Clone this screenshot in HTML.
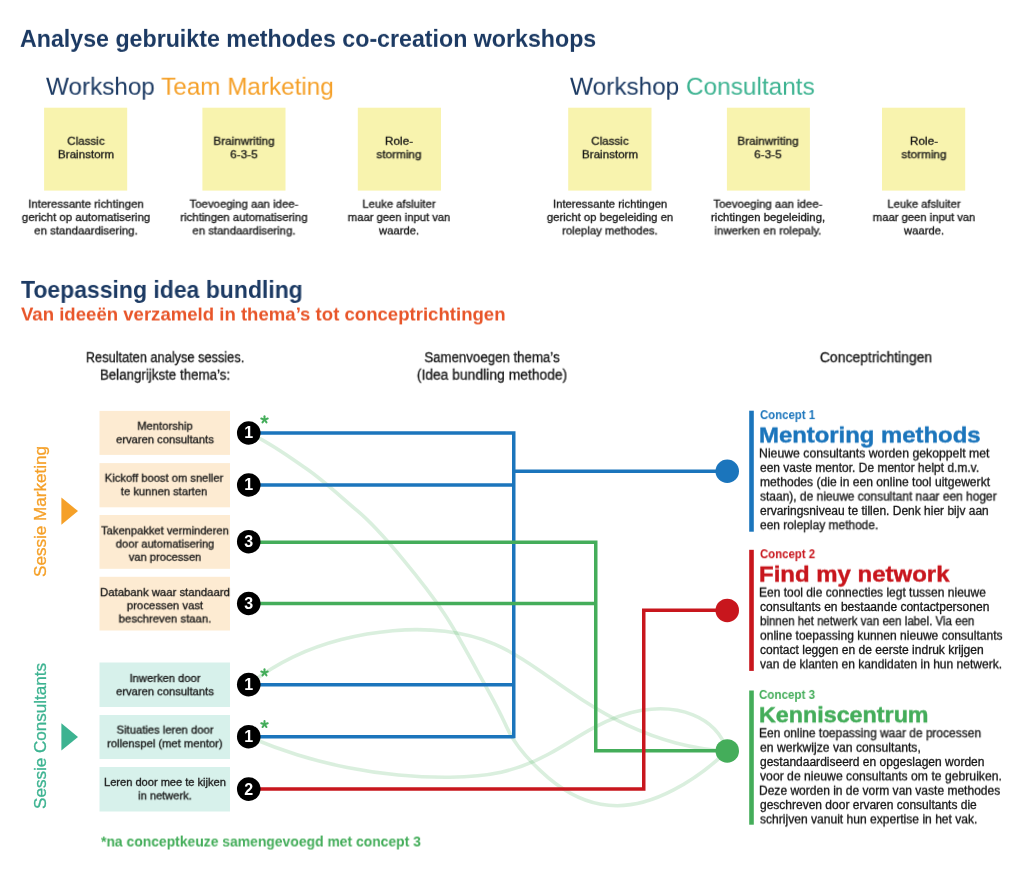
<!DOCTYPE html>
<html><head><meta charset="utf-8"><title>Idea bundling</title>
<style>
html,body{margin:0;padding:0;background:#fff;}
body{width:1024px;height:883px;position:relative;overflow:hidden;font-family:"Liberation Sans",sans-serif;color:#151515;}
.t{position:absolute;white-space:nowrap;line-height:1;transform-origin:0 50%;will-change:transform;}
.k{-webkit-text-stroke:0.3px;}
svg{position:absolute;left:0;top:0;will-change:transform;}
.rot{position:absolute;white-space:nowrap;line-height:1;transform-origin:0 0;}
</style></head><body>

<svg width="1024" height="883" viewBox="0 0 1024 883">
<g fill="#f8f3ae">
<rect x="44.1" y="107.7" width="83.1" height="82.9"/><rect x="202.4" y="107.7" width="83.1" height="82.9"/><rect x="357.8" y="107.7" width="83.2" height="82.9"/>
<rect x="568.2" y="107.7" width="83.3" height="82.9"/><rect x="726.9" y="107.7" width="83" height="82.9"/><rect x="882" y="107.7" width="83.2" height="82.9"/>
</g>
<g fill="#fdebd2">
<rect x="99.5" y="410.9" width="130.5" height="44"/><rect x="99.5" y="463.1" width="130.5" height="44.2"/>
<rect x="99.5" y="515" width="130.5" height="53.8"/><rect x="99.5" y="576.8" width="130.5" height="53.7"/>
</g>
<g fill="#d7f1eb">
<rect x="99.5" y="662.5" width="130.5" height="44.5"/><rect x="99.5" y="715" width="130.5" height="44"/><rect x="99.5" y="767" width="130.5" height="44.5"/>
</g>
<g fill="none" stroke="#44ad5a" stroke-opacity="0.2" stroke-width="3.6" stroke-linecap="round">
<path d="M248.7 433.0C269.3 442.1 287.4 455.5 305.8 468.3C324.3 481.0 340.0 496.3 357.2 510.7C374.5 525.1 388.9 542.4 403.2 559.6C417.5 576.8 431.3 594.3 443.8 612.9C456.3 631.5 466.6 651.6 477.3 671.0C488.0 690.4 497.6 706.7 506.2 726.1C514.7 745.6 531.4 763.3 548.4 777.8C565.5 792.3 586.2 803.2 608.6 805.3C630.9 807.5 653.2 800.6 673.1 790.2C693.0 779.9 711.0 766.4 727.3 750.9"/>
<path d="M248.7 684.7C262.5 673.7 277.3 664.6 292.8 657.1C308.3 649.7 324.6 643.9 341.3 639.6C358.1 635.3 375.4 632.3 392.8 630.8C410.3 629.2 427.9 629.2 445.0 631.3C462.2 633.3 478.8 637.4 494.5 644.1C510.2 650.8 524.8 660.3 539.1 670.2C553.5 680.1 567.6 690.3 582.1 699.7C596.7 709.1 611.6 717.8 627.2 725.1C642.9 732.4 659.2 738.5 675.9 742.9C692.7 747.3 709.8 750.1 727.3 750.9"/>
<path d="M248.7 736.7C264.5 743.6 280.7 749.6 297.1 754.7C313.6 759.9 330.3 764.1 347.2 767.5C364.1 770.9 381.2 773.4 398.4 775.0C415.5 776.6 432.8 777.4 450.0 777.2C467.3 777.0 484.5 775.8 501.1 772.2C517.7 768.5 533.7 762.2 548.8 754.0C563.9 745.9 578.2 736.1 593.4 727.9C608.6 719.7 624.8 713.1 641.9 710.3C659.1 707.5 677.4 708.5 692.9 714.8C708.5 721.0 721.3 732.5 727.3 750.9"/>
</g>
<g fill="none" stroke="#1b75bc" stroke-width="3.5">
<path d="M248.75 433.1H513.75 M248.75 485H513.75 M248.75 684.7H513.75 M248.75 736.7H513.75 M513.75 431.35V738.35 M513.75 471.25H727"/>
</g>
<g fill="none" stroke="#44ad5a" stroke-width="3.5">
<path d="M248.75 542.25H595.75V750.75H727 M248.75 603.4H595.75" transform="translate(0,0)"/>
</g>
<g fill="none" stroke="#c8161d" stroke-width="3.5">
<path d="M248.75 789.1H643.75V610.3H727"/>
</g>
<circle cx="727.25" cy="471.25" r="11.75" fill="#1b75bc"/>
<circle cx="727.25" cy="610.4" r="11.75" fill="#c8161d"/>
<circle cx="727.25" cy="750.9" r="11.75" fill="#44ad5a"/>
<rect x="749.2" y="410.7" width="4.6" height="121" fill="#1b75bc"/>
<rect x="749.2" y="549.8" width="4.6" height="121.1" fill="#c8161d"/>
<rect x="749.2" y="690.5" width="4.6" height="134.2" fill="#44ad5a"/>
<polygon points="61.4,497.5 61.4,524.7 78,511.1" fill="#f5a028"/>
<polygon points="61.4,723.3 61.4,750.5 78,736.9" fill="#3db391"/>
<circle cx="248.75" cy="433.0" r="11.8" fill="#000"/><text x="248.75" y="438" font-size="16" font-weight="700" fill="#fff" text-anchor="middle" font-family="Liberation Sans, sans-serif">1</text><circle cx="248.75" cy="485.0" r="11.8" fill="#000"/><text x="248.75" y="490" font-size="16" font-weight="700" fill="#fff" text-anchor="middle" font-family="Liberation Sans, sans-serif">1</text><circle cx="248.75" cy="541.7" r="11.8" fill="#000"/><text x="248.75" y="547" font-size="16" font-weight="700" fill="#fff" text-anchor="middle" font-family="Liberation Sans, sans-serif">3</text><circle cx="248.75" cy="603.5" r="11.8" fill="#000"/><text x="248.75" y="609" font-size="16" font-weight="700" fill="#fff" text-anchor="middle" font-family="Liberation Sans, sans-serif">3</text><circle cx="248.75" cy="684.6" r="11.8" fill="#000"/><text x="248.75" y="690" font-size="16" font-weight="700" fill="#fff" text-anchor="middle" font-family="Liberation Sans, sans-serif">1</text><circle cx="248.75" cy="736.7" r="11.8" fill="#000"/><text x="248.75" y="742" font-size="16" font-weight="700" fill="#fff" text-anchor="middle" font-family="Liberation Sans, sans-serif">1</text><circle cx="248.75" cy="789.1" r="11.8" fill="#000"/><text x="248.75" y="795" font-size="16" font-weight="700" fill="#fff" text-anchor="middle" font-family="Liberation Sans, sans-serif">2</text>
<line x1="264.50" y1="419.60" x2="264.50" y2="416.20" stroke="#44ad5a" stroke-width="2" stroke-linecap="round"/><line x1="264.50" y1="419.60" x2="267.73" y2="418.55" stroke="#44ad5a" stroke-width="2" stroke-linecap="round"/><line x1="264.50" y1="419.60" x2="266.50" y2="422.35" stroke="#44ad5a" stroke-width="2" stroke-linecap="round"/><line x1="264.50" y1="419.60" x2="262.50" y2="422.35" stroke="#44ad5a" stroke-width="2" stroke-linecap="round"/><line x1="264.50" y1="419.60" x2="261.27" y2="418.55" stroke="#44ad5a" stroke-width="2" stroke-linecap="round"/><line x1="264.50" y1="672.60" x2="264.50" y2="669.20" stroke="#44ad5a" stroke-width="2" stroke-linecap="round"/><line x1="264.50" y1="672.60" x2="267.73" y2="671.55" stroke="#44ad5a" stroke-width="2" stroke-linecap="round"/><line x1="264.50" y1="672.60" x2="266.50" y2="675.35" stroke="#44ad5a" stroke-width="2" stroke-linecap="round"/><line x1="264.50" y1="672.60" x2="262.50" y2="675.35" stroke="#44ad5a" stroke-width="2" stroke-linecap="round"/><line x1="264.50" y1="672.60" x2="261.27" y2="671.55" stroke="#44ad5a" stroke-width="2" stroke-linecap="round"/><line x1="264.50" y1="724.30" x2="264.50" y2="720.90" stroke="#44ad5a" stroke-width="2" stroke-linecap="round"/><line x1="264.50" y1="724.30" x2="267.73" y2="723.25" stroke="#44ad5a" stroke-width="2" stroke-linecap="round"/><line x1="264.50" y1="724.30" x2="266.50" y2="727.05" stroke="#44ad5a" stroke-width="2" stroke-linecap="round"/><line x1="264.50" y1="724.30" x2="262.50" y2="727.05" stroke="#44ad5a" stroke-width="2" stroke-linecap="round"/><line x1="264.50" y1="724.30" x2="261.27" y2="723.25" stroke="#44ad5a" stroke-width="2" stroke-linecap="round"/>
</svg>
<div class="rot" style="left:32.4px;top:576.5px;font-size:17.2px;color:#f5a028;-webkit-text-stroke:0.3px #f5a028;transform:rotate(-90deg) scaleX(0.9947)">Sessie Marketing</div>
<div class="rot" style="left:32.4px;top:809.3px;font-size:17.2px;color:#3db391;-webkit-text-stroke:0.3px #3db391;transform:rotate(-90deg) scaleX(0.9932)">Sessie Consultants</div>

<div class="t" style="left:19.79px;top:28px;font-size:23.2px;font-weight:700;color:#1c3a63;transform:translateY(-0.15px) scale(1.0005,.9999)">Analyse gebruikte methodes co-creation workshops</div>
<div class="t" style="left:45.7px;top:75px;font-size:24.6px;color:#1c3a63;transform:translateY(-0.3px) scale(0.9866,.9999)">Workshop <span style="color:#f5a028">Team Marketing</span></div>
<div class="t" style="left:569.59px;top:75px;font-size:24.6px;color:#1c3a63;transform:translateY(-0.3px) scale(0.9907,.9999)">Workshop <span style="color:#3db391">Consultants</span></div>
<div class="t k" style="left:85.6px;top:136px;font-size:10.8px;transform:translateY(-0.2px) scale(1.0735,.9999) translateX(-50%)">Classic</div>
<div class="t k" style="left:85.6px;top:149px;font-size:10.8px;transform:translateY(0.2px) scale(1.0735,.9999) translateX(-50%)">Brainstorm</div>
<div class="t k" style="left:244.0px;top:136px;font-size:10.8px;transform:translateY(-0.2px) scale(1.0848,.9999) translateX(-50%)">Brainwriting</div>
<div class="t k" style="left:244.0px;top:149px;font-size:10.8px;transform:translateY(0.2px) scale(1.0848,.9999) translateX(-50%)">6-3-5</div>
<div class="t k" style="left:399.4px;top:136px;font-size:10.8px;transform:translateY(-0.2px) scale(1.0875,.9999) translateX(-50%)">Role-</div>
<div class="t k" style="left:399.4px;top:149px;font-size:10.8px;transform:translateY(0.2px) scale(1.0875,.9999) translateX(-50%)">storming</div>
<div class="t k" style="left:609.9px;top:136px;font-size:10.8px;transform:translateY(-0.2px) scale(1.0735,.9999) translateX(-50%)">Classic</div>
<div class="t k" style="left:609.9px;top:149px;font-size:10.8px;transform:translateY(0.2px) scale(1.0735,.9999) translateX(-50%)">Brainstorm</div>
<div class="t k" style="left:768.4px;top:136px;font-size:10.8px;transform:translateY(-0.2px) scale(1.0848,.9999) translateX(-50%)">Brainwriting</div>
<div class="t k" style="left:768.4px;top:149px;font-size:10.8px;transform:translateY(0.2px) scale(1.0848,.9999) translateX(-50%)">6-3-5</div>
<div class="t k" style="left:923.7px;top:136px;font-size:10.8px;transform:translateY(-0.2px) scale(1.0875,.9999) translateX(-50%)">Role-</div>
<div class="t k" style="left:923.7px;top:149px;font-size:10.8px;transform:translateY(0.2px) scale(1.0875,.9999) translateX(-50%)">storming</div>
<div class="t k" style="left:85.6px;top:199px;font-size:10.8px;transform:translateY(-0.3px) scale(1.0583,.9999) translateX(-50%)">Interessante richtingen</div>
<div class="t k" style="left:85.6px;top:212px;font-size:10.8px;transform:translateY(0.05px) scale(1.0583,.9999) translateX(-50%)">gericht op automatisering</div>
<div class="t k" style="left:85.6px;top:225px;font-size:10.8px;transform:translateY(0.4px) scale(1.0583,.9999) translateX(-50%)">en standaardisering.</div>
<div class="t k" style="left:244.0px;top:199px;font-size:10.8px;transform:translateY(-0.3px) scale(1.0542,.9999) translateX(-50%)">Toevoeging aan idee-</div>
<div class="t k" style="left:244.0px;top:212px;font-size:10.8px;transform:translateY(0.05px) scale(1.0542,.9999) translateX(-50%)">richtingen automatisering</div>
<div class="t k" style="left:244.0px;top:225px;font-size:10.8px;transform:translateY(0.4px) scale(1.0542,.9999) translateX(-50%)">en standaardisering.</div>
<div class="t k" style="left:399.4px;top:199px;font-size:10.8px;transform:translateY(-0.3px) scale(1.0408,.9999) translateX(-50%)">Leuke afsluiter</div>
<div class="t k" style="left:399.4px;top:212px;font-size:10.8px;transform:translateY(0.05px) scale(1.0408,.9999) translateX(-50%)">maar geen input van</div>
<div class="t k" style="left:399.4px;top:225px;font-size:10.8px;transform:translateY(0.4px) scale(1.0408,.9999) translateX(-50%)">waarde.</div>
<div class="t k" style="left:609.9px;top:199px;font-size:10.8px;transform:translateY(-0.3px) scale(1.0458,.9999) translateX(-50%)">Interessante richtingen</div>
<div class="t k" style="left:609.9px;top:212px;font-size:10.8px;transform:translateY(0.05px) scale(1.0458,.9999) translateX(-50%)">gericht op begeleiding en</div>
<div class="t k" style="left:609.9px;top:225px;font-size:10.8px;transform:translateY(0.4px) scale(1.0458,.9999) translateX(-50%)">roleplay methodes.</div>
<div class="t k" style="left:768.4px;top:199px;font-size:10.8px;transform:translateY(-0.3px) scale(1.0561,.9999) translateX(-50%)">Toevoeging aan idee-</div>
<div class="t k" style="left:768.4px;top:212px;font-size:10.8px;transform:translateY(0.05px) scale(1.0561,.9999) translateX(-50%)">richtingen begeleiding,</div>
<div class="t k" style="left:768.4px;top:225px;font-size:10.8px;transform:translateY(0.4px) scale(1.0561,.9999) translateX(-50%)">inwerken en rolepaly.</div>
<div class="t k" style="left:923.7px;top:199px;font-size:10.8px;transform:translateY(-0.3px) scale(1.0408,.9999) translateX(-50%)">Leuke afsluiter</div>
<div class="t k" style="left:923.7px;top:212px;font-size:10.8px;transform:translateY(0.05px) scale(1.0408,.9999) translateX(-50%)">maar geen input van</div>
<div class="t k" style="left:923.7px;top:225px;font-size:10.8px;transform:translateY(0.4px) scale(1.0408,.9999) translateX(-50%)">waarde.</div>
<div class="t" style="left:21.29px;top:279px;font-size:23.2px;font-weight:700;color:#1c3a63;transform:translateY(-0.1px) scale(0.9912,.9999)">Toepassing idea bundling</div>
<div class="t" style="left:21.31px;top:306px;font-size:18.0px;font-weight:700;color:#e8562a;transform:translateY(-0.5px) scale(1.0321,.9999)">Van ideeën verzameld in thema’s tot conceptrichtingen</div>
<div class="t k" style="left:164.8px;top:350px;font-size:14.0px;transform:translateY(0.2px) scale(0.9128,.9999) translateX(-50%)">Resultaten analyse sessies.</div>
<div class="t k" style="left:164.8px;top:368px;font-size:14.0px;transform:translateY(-0.35px) scale(0.9522,.9999) translateX(-50%)">Belangrijkste thema’s:</div>
<div class="t k" style="left:491.8px;top:350px;font-size:14.0px;transform:translateY(0.2px) scale(0.9465,.9999) translateX(-50%)">Samenvoegen thema’s</div>
<div class="t k" style="left:491.8px;top:368px;font-size:14.0px;transform:translateY(-0.35px) scale(0.9913,.9999) translateX(-50%)">(Idea bundling methode)</div>
<div class="t k" style="left:876.45px;top:350px;font-size:14.0px;transform:translateY(0.2px) scale(0.9955,.9999) translateX(-50%)">Conceptrichtingen</div>
<div class="t k" style="left:164.6px;top:421px;font-size:10.8px;transform:translateY(-0.3px) scale(1.0372,.9999) translateX(-50%)">Mentorship</div>
<div class="t k" style="left:164.6px;top:434px;font-size:10.8px;transform:translateY(0.3px) scale(1.0372,.9999) translateX(-50%)">ervaren consultants</div>
<div class="t k" style="left:164.3px;top:473px;font-size:10.8px;transform:translateY(-0.3px) scale(1.0351,.9999) translateX(-50%)">Kickoff boost om sneller</div>
<div class="t k" style="left:164.3px;top:486px;font-size:10.8px;transform:translateY(0.3px) scale(1.0351,.9999) translateX(-50%)">te kunnen starten</div>
<div class="t k" style="left:164.5px;top:525px;font-size:10.8px;transform:translateY(0.4px) scale(1.0325,.9999) translateX(-50%)">Takenpakket verminderen</div>
<div class="t k" style="left:164.5px;top:539px;font-size:10.8px;transform:translateY(-0.4px) scale(1.0325,.9999) translateX(-50%)">door automatisering</div>
<div class="t k" style="left:164.5px;top:552px;font-size:10.8px;transform:translateY(-0.2px) scale(1.0325,.9999) translateX(-50%)">van processen</div>
<div class="t k" style="left:164.5px;top:587px;font-size:10.8px;transform:translateY(0.1px) scale(1.0492,.9999) translateX(-50%)">Databank waar standaard</div>
<div class="t k" style="left:164.5px;top:600px;font-size:10.8px;transform:translateY(0.3px) scale(1.0492,.9999) translateX(-50%)">processen vast</div>
<div class="t k" style="left:164.5px;top:614px;font-size:10.8px;transform:translateY(-0.5px) scale(1.0492,.9999) translateX(-50%)">beschreven staan.</div>
<div class="t k" style="left:164.5px;top:673px;font-size:10.8px;transform:translateY(0.0px) scale(1.0372,.9999) translateX(-50%)">Inwerken door</div>
<div class="t k" style="left:164.5px;top:686px;font-size:10.8px;transform:translateY(0.3px) scale(1.0372,.9999) translateX(-50%)">ervaren consultants</div>
<div class="t k" style="left:164.5px;top:725px;font-size:10.8px;transform:translateY(-0.4px) scale(1.0409,.9999) translateX(-50%)">Situaties leren door</div>
<div class="t k" style="left:164.5px;top:738px;font-size:10.8px;transform:translateY(0.3px) scale(1.0409,.9999) translateX(-50%)">rollenspel (met mentor)</div>
<div class="t k" style="left:164.5px;top:777px;font-size:10.8px;transform:translateY(-0.1px) scale(1.0254,.9999) translateX(-50%)">Leren door mee te kijken</div>
<div class="t k" style="left:164.5px;top:790px;font-size:10.8px;transform:translateY(0.4px) scale(1.0254,.9999) translateX(-50%)">in netwerk.</div>
<div class="t" style="left:101.38px;top:835px;font-size:14.6px;font-weight:700;color:#44ad5a;transform:translateY(-0.5px) scale(0.9525,.9999)">*na conceptkeuze samengevoegd met concept 3</div>
<div class="t" style="left:760.2px;top:409px;font-size:12.2px;font-weight:700;color:#1b75bc;transform:translateY(0.1px) scale(0.9339,.9999)">Concept 1</div>
<div class="t" style="left:759.32px;top:425px;font-size:22.4px;font-weight:700;color:#1b75bc;-webkit-text-stroke:0.45px;transform:translateY(-0.5px) scale(1.0665,.9999)">Mentoring methods</div>
<div class="t k" style="left:758.77px;top:448px;font-size:12.0px;transform:translateY(-0.5px) scale(1.0218,.9999)">Nieuwe consultants worden gekoppelt met</div>
<div class="t k" style="left:759.79px;top:462px;font-size:12.0px;transform:translateY(-0.15px) scale(0.9991,.9999)">een vaste mentor. De mentor helpt d.m.v.</div>
<div class="t k" style="left:759.79px;top:476px;font-size:12.0px;transform:translateY(0.2px) scale(1.0083,.9999)">methodes (die in een online tool uitgewerkt</div>
<div class="t k" style="left:759.79px;top:491px;font-size:12.0px;transform:translateY(-0.45px) scale(0.9966,.9999)">staan), de nieuwe consultant naar een hoger</div>
<div class="t k" style="left:759.79px;top:505px;font-size:12.0px;transform:translateY(-0.1px) scale(0.9996,.9999)">ervaringsniveau te tillen. Denk hier bijv aan</div>
<div class="t k" style="left:759.79px;top:519px;font-size:12.0px;transform:translateY(0.25px) scale(0.9958,.9999)">een roleplay methode.</div>
<div class="t" style="left:760.2px;top:548px;font-size:12.2px;font-weight:700;color:#c8161d;transform:translateY(0.2px) scale(0.9339,.9999)">Concept 2</div>
<div class="t" style="left:759.31px;top:564px;font-size:22.4px;font-weight:700;color:#c8161d;-webkit-text-stroke:0.45px;transform:translateY(-0.4px) scale(1.0706,.9999)">Find my network</div>
<div class="t k" style="left:758.79px;top:587px;font-size:12.0px;transform:translateY(-0.4px) scale(1.0,.9999)">Een tool die connecties legt tussen nieuwe</div>
<div class="t k" style="left:759.79px;top:601px;font-size:12.0px;transform:translateY(-0.05px) scale(1.0022,.9999)">consultants en bestaande contactpersonen</div>
<div class="t k" style="left:759.79px;top:615px;font-size:12.0px;transform:translateY(0.3px) scale(0.9601,.9999)">binnen het netwerk van een label. Via een</div>
<div class="t k" style="left:759.79px;top:630px;font-size:12.0px;transform:translateY(-0.35px) scale(1.0046,.9999)">online toepassing kunnen nieuwe consultants</div>
<div class="t k" style="left:759.79px;top:644px;font-size:12.0px;transform:translateY(0.0px) scale(1.0041,.9999)">contact leggen en de eerste indruk krijgen</div>
<div class="t k" style="left:759.79px;top:658px;font-size:12.0px;transform:translateY(0.35px) scale(1.0021,.9999)">van de klanten en kandidaten in hun netwerk.</div>
<div class="t" style="left:759.25px;top:689px;font-size:12.2px;font-weight:700;color:#44ad5a;transform:translateY(-0.1px) scale(0.95,.9999)">Concept 3</div>
<div class="t" style="left:759.35px;top:704px;font-size:22.4px;font-weight:700;color:#44ad5a;-webkit-text-stroke:0.45px;transform:translateY(0.3px) scale(1.0404,.9999)">Kenniscentrum</div>
<div class="t k" style="left:758.79px;top:727px;font-size:12.0px;transform:translateY(0.3px) scale(0.9964,.9999)">Een online toepassing waar de processen</div>
<div class="t k" style="left:759.79px;top:742px;font-size:12.0px;transform:translateY(-0.35px) scale(1.0127,.9999)">en werkwijze van consultants,</div>
<div class="t k" style="left:759.79px;top:756px;font-size:12.0px;transform:translateY(0.0px) scale(1.0013,.9999)">gestandaardiseerd en opgeslagen worden</div>
<div class="t k" style="left:759.79px;top:770px;font-size:12.0px;transform:translateY(0.35px) scale(1.0156,.9999)">voor de nieuwe consultants om te gebruiken.</div>
<div class="t k" style="left:758.79px;top:785px;font-size:12.0px;transform:translateY(-0.3px) scale(1.0017,.9999)">Deze worden in de vorm van vaste methodes</div>
<div class="t k" style="left:759.79px;top:799px;font-size:12.0px;transform:translateY(0.05px) scale(1.0,.9999)">geschreven door ervaren consultants die</div>
<div class="t k" style="left:759.79px;top:813px;font-size:12.0px;transform:translateY(0.4px) scale(1.006,.9999)">schrijven vanuit hun expertise in het vak.</div>
</body></html>
